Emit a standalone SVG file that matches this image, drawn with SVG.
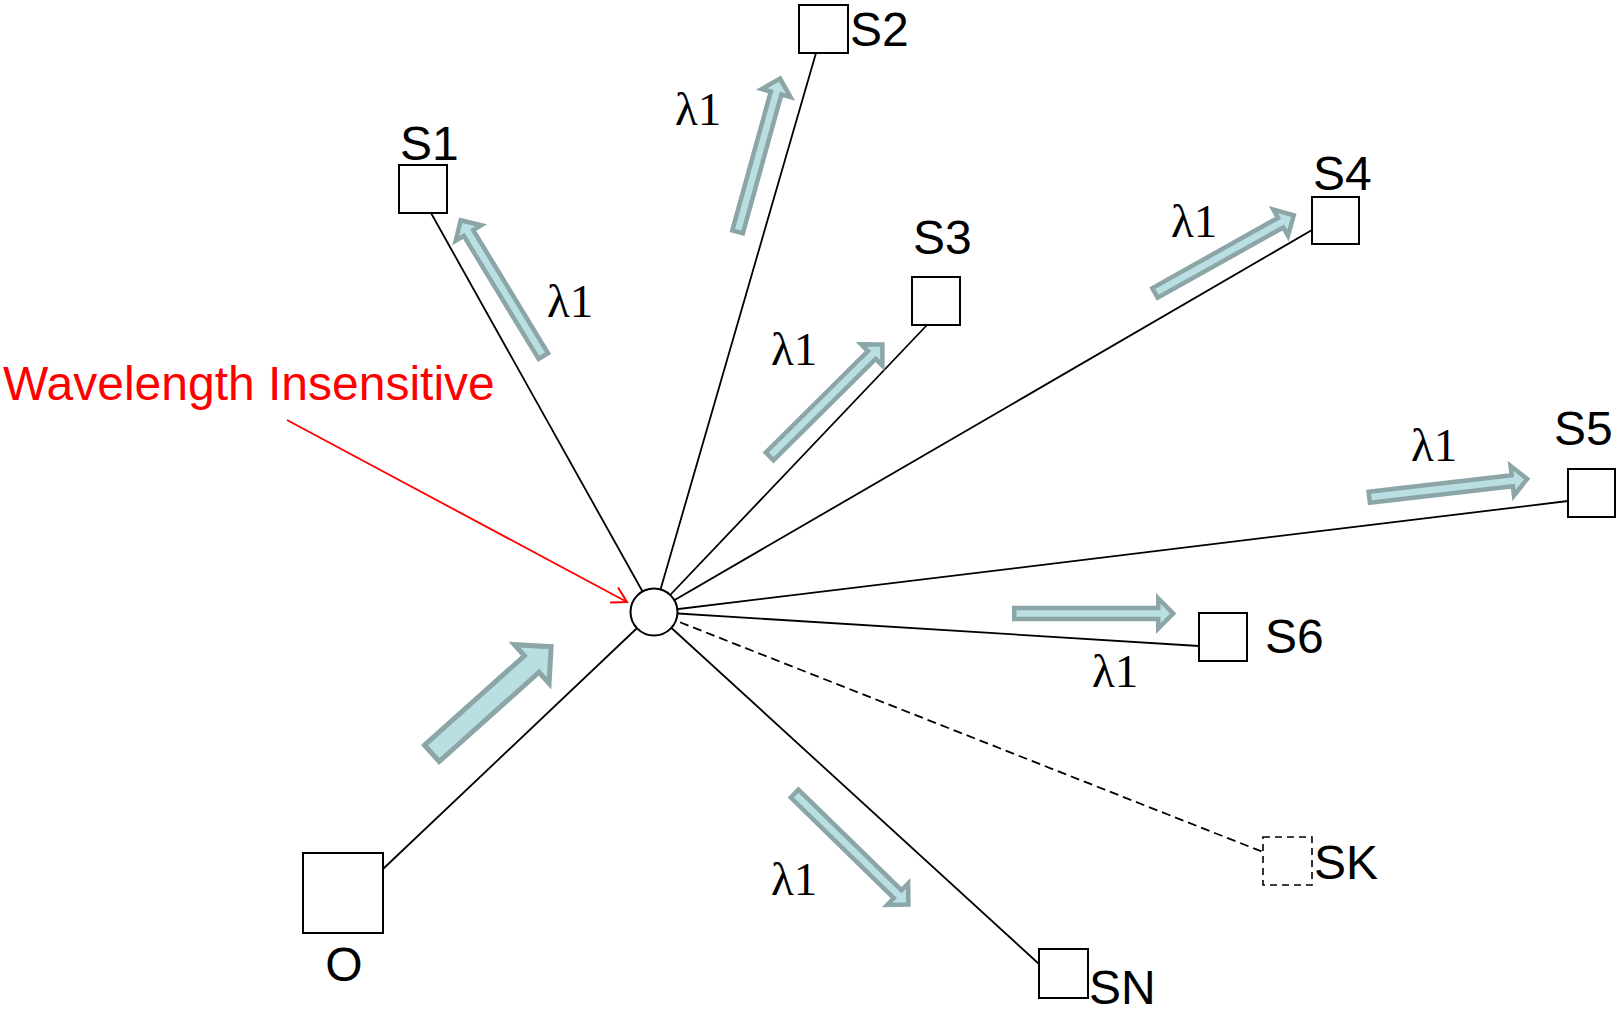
<svg xmlns="http://www.w3.org/2000/svg" width="1617" height="1009" viewBox="0 0 1617 1009">
  <style>
    .link { stroke: #000; stroke-width: 1.8; fill: none; }
    .dashed { stroke-dasharray: 9 5; }
    .box { fill: #fff; stroke: #000; stroke-width: 2; }
    .boxdash { fill: #fff; stroke: #000; stroke-width: 1.6; stroke-dasharray: 7 5; }
    .lbl { font-family: "Liberation Sans", Arial, sans-serif; font-size: 48px; fill: #000; }
    .lam { font-family: "Liberation Serif", "Times New Roman", serif; font-size: 47px; fill: #000; }
    .flow { fill: #b9dfe2; stroke: #8ca6a8; stroke-width: 4.5; stroke-linejoin: miter; }
    .flowbig { fill: #b9dfe2; stroke: #8ca6a8; stroke-width: 5; stroke-linejoin: miter; }
    .note { font-family: "Liberation Sans", Arial, sans-serif; font-size: 48px; fill: #ff0000; }
  </style>
  <defs>
    <!-- thin block arrow, tail at x=0 pointing along +x -->
    <path id="thinArrow" d="M0,-5.5 H144 V-15 L159,0 L144,15 V5.5 H0 Z"/>
    <marker id="openRed" markerUnits="userSpaceOnUse" markerWidth="24" markerHeight="24" viewBox="-20 -12 24 24" refX="0" refY="0" orient="auto">
      <path d="M-14.7,-8.5 L0,0 L-14.7,8.5" fill="none" stroke="#ff0000" stroke-width="2"/>
    </marker>
  </defs>

  <!-- links from the splitter -->
  <g id="connectors">
    <line class="link" x1="654" y1="612" x2="431" y2="213"/>
    <line class="link" x1="654" y1="612" x2="816" y2="53"/>
    <line class="link" x1="654" y1="612" x2="927" y2="325"/>
    <line class="link" x1="654" y1="612" x2="1312" y2="230"/>
    <line class="link" x1="654" y1="612" x2="1568" y2="501"/>
    <line class="link" x1="654" y1="612" x2="1199" y2="646"/>
    <line class="link dashed" x1="654" y1="612" x2="1263" y2="852"/>
    <line class="link" x1="654" y1="612" x2="1039" y2="964"/>
    <line class="link" x1="654" y1="612" x2="383" y2="869"/>
    <line x1="287" y1="420" x2="627" y2="602" stroke="#ff0000" stroke-width="1.8" marker-end="url(#openRed)"/>
  </g>

  <!-- traffic direction arrows -->
  <g id="flows">
    <path class="flowbig" transform="translate(430,755) rotate(-41.8) translate(2.5,0)" d="M0,-11 H134 V-26 L160,0 L134,26 V11 H0 Z"/>
    <use class="flow" href="#thinArrow" transform="translate(544.5,358) rotate(-121.3) translate(2.25,0)"/>
    <use class="flow" href="#thinArrow" transform="translate(737,234) rotate(-74.5) translate(2.25,0)"/>
    <use class="flow" href="#thinArrow" transform="translate(768,458) rotate(-44.8) translate(2.25,0)"/>
    <use class="flow" href="#thinArrow" transform="translate(1153,294) rotate(-29.2) translate(2.25,0)"/>
    <use class="flow" href="#thinArrow" transform="translate(1367,497.5) rotate(-6.6) translate(2.25,0)"/>
    <use class="flow" href="#thinArrow" transform="translate(1012,613.5) rotate(0) translate(2.25,0)"/>
    <use class="flow" href="#thinArrow" transform="translate(793,792) rotate(44.3) translate(2.25,0)"/>
  </g>

  <g id="lambda-labels">
    <text class="lam" x="675" y="125">λ1</text>
    <text class="lam" x="547" y="317">λ1</text>
    <text class="lam" x="771" y="365">λ1</text>
    <text class="lam" x="1171" y="237">λ1</text>
    <text class="lam" x="1411" y="461">λ1</text>
    <text class="lam" x="1092" y="687">λ1</text>
    <text class="lam" x="771" y="895">λ1</text>
  </g>

  <g id="splitter">
    <circle cx="654" cy="612" r="23.5" fill="#fff" stroke="#000" stroke-width="2"/>
  </g>

  <g id="note">
    <text class="note" x="3" y="400">Wavelength Insensitive</text>
  </g>

  <g id="node-O">
    <rect class="box" x="303" y="853" width="80" height="80"/>
    <text class="lbl" x="344" y="981" text-anchor="middle">O</text>
  </g>
  <g id="node-S1">
    <rect class="box" x="399" y="165" width="48" height="48"/>
    <text class="lbl" x="400" y="160">S1</text>
  </g>
  <g id="node-S2">
    <rect class="box" x="799" y="5" width="49" height="48"/>
    <text class="lbl" x="850" y="46">S2</text>
  </g>
  <g id="node-S3">
    <rect class="box" x="912" y="277" width="48" height="48"/>
    <text class="lbl" x="913" y="254">S3</text>
  </g>
  <g id="node-S4">
    <rect class="box" x="1312" y="197" width="47" height="47"/>
    <text class="lbl" x="1313" y="190">S4</text>
  </g>
  <g id="node-S5">
    <rect class="box" x="1568" y="469" width="47" height="48"/>
    <text class="lbl" x="1554" y="445">S5</text>
  </g>
  <g id="node-S6">
    <rect class="box" x="1199" y="613" width="48" height="48"/>
    <text class="lbl" x="1265" y="653">S6</text>
  </g>
  <g id="node-SK">
    <rect class="boxdash" x="1263" y="837" width="49" height="48"/>
    <text class="lbl" x="1314" y="879">SK</text>
  </g>
  <g id="node-SN">
    <rect class="box" x="1039" y="949" width="49" height="49"/>
    <text class="lbl" x="1089" y="1004">SN</text>
  </g>
</svg>
